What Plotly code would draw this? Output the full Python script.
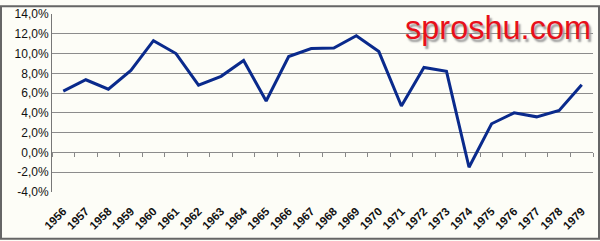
import plotly.graph_objects as go

years = [str(y) for y in range(1956, 1980)]
values = [6.2, 7.35, 6.4, 8.3, 11.3, 10.0, 6.8, 7.7, 9.3, 5.2, 9.7, 10.5, 10.55, 11.8,
          10.2, 4.7, 8.6, 8.2, -1.5, 2.9, 4.0, 3.6, 4.25, 6.85]
yticks = [-4, -2, 0, 2, 4, 6, 8, 10, 12, 14]
ytext = [f"{v:.1f}%".replace(".", ",") for v in yticks]

bg = "#fdfdf7"
fig = go.Figure()
fig.add_trace(go.Scatter(x=years, y=values, mode="lines",
                         line=dict(color="#0a2a8c", width=3), showlegend=False))

fig.update_layout(
    width=600, height=241,
    margin=dict(l=52, r=7, t=9, b=49),
    paper_bgcolor=bg, plot_bgcolor=bg,
    font=dict(family="Liberation Sans, Arial", color="#222222"),
    xaxis=dict(type="category", categoryorder="array", categoryarray=years,
               tickangle=-45, showgrid=False, ticks="outside", ticklen=7, tickcolor=bg,
               tickfont=dict(size=11.5, family="Liberation Sans, Arial", color="#111111", weight="bold"),
               showline=False, zeroline=False, range=[-0.5, len(years) - 0.5]),
    xaxis2=dict(type="category", categoryorder="array", categoryarray=years,
                overlaying="x", anchor="free", position=4 / 18, side="bottom",
                showticklabels=False, ticks="outside", ticklen=4, tickcolor="#888888",
                tickson="boundaries", showgrid=False, showline=False, zeroline=False,
                range=[-0.5, len(years) - 0.5]),
    yaxis=dict(range=[-4, 14], tickvals=yticks, ticktext=ytext,
               showgrid=True, gridcolor="#8c8c8c", gridwidth=1,
               zeroline=False, showline=True, linecolor="#777777", linewidth=1,
               tickfont=dict(size=12, color="#111111"), ticks="", ticklen=0),
)
fig.add_trace(go.Scatter(x=years, y=values, xaxis="x2", mode="lines",
                         line=dict(width=0), opacity=0, showlegend=False, hoverinfo="skip"))

fig.add_shape(type="rect", xref="paper", yref="paper", x0=-51 / 541, x1=1 + 6 / 541,
              y0=-48 / 183, y1=1 + 8 / 183, line=dict(color="#666666", width=2))
fig.add_annotation(text="sproshu.com", xref="paper", yref="paper", x=1.0, y=1.035,
                   xanchor="right", yanchor="top", showarrow=False,
                   font=dict(size=32.5, color="#e8101a", family="Liberation Sans, Arial",
                             shadow="2px 3px 2px #999999"))
fig.write_html("out.html")
